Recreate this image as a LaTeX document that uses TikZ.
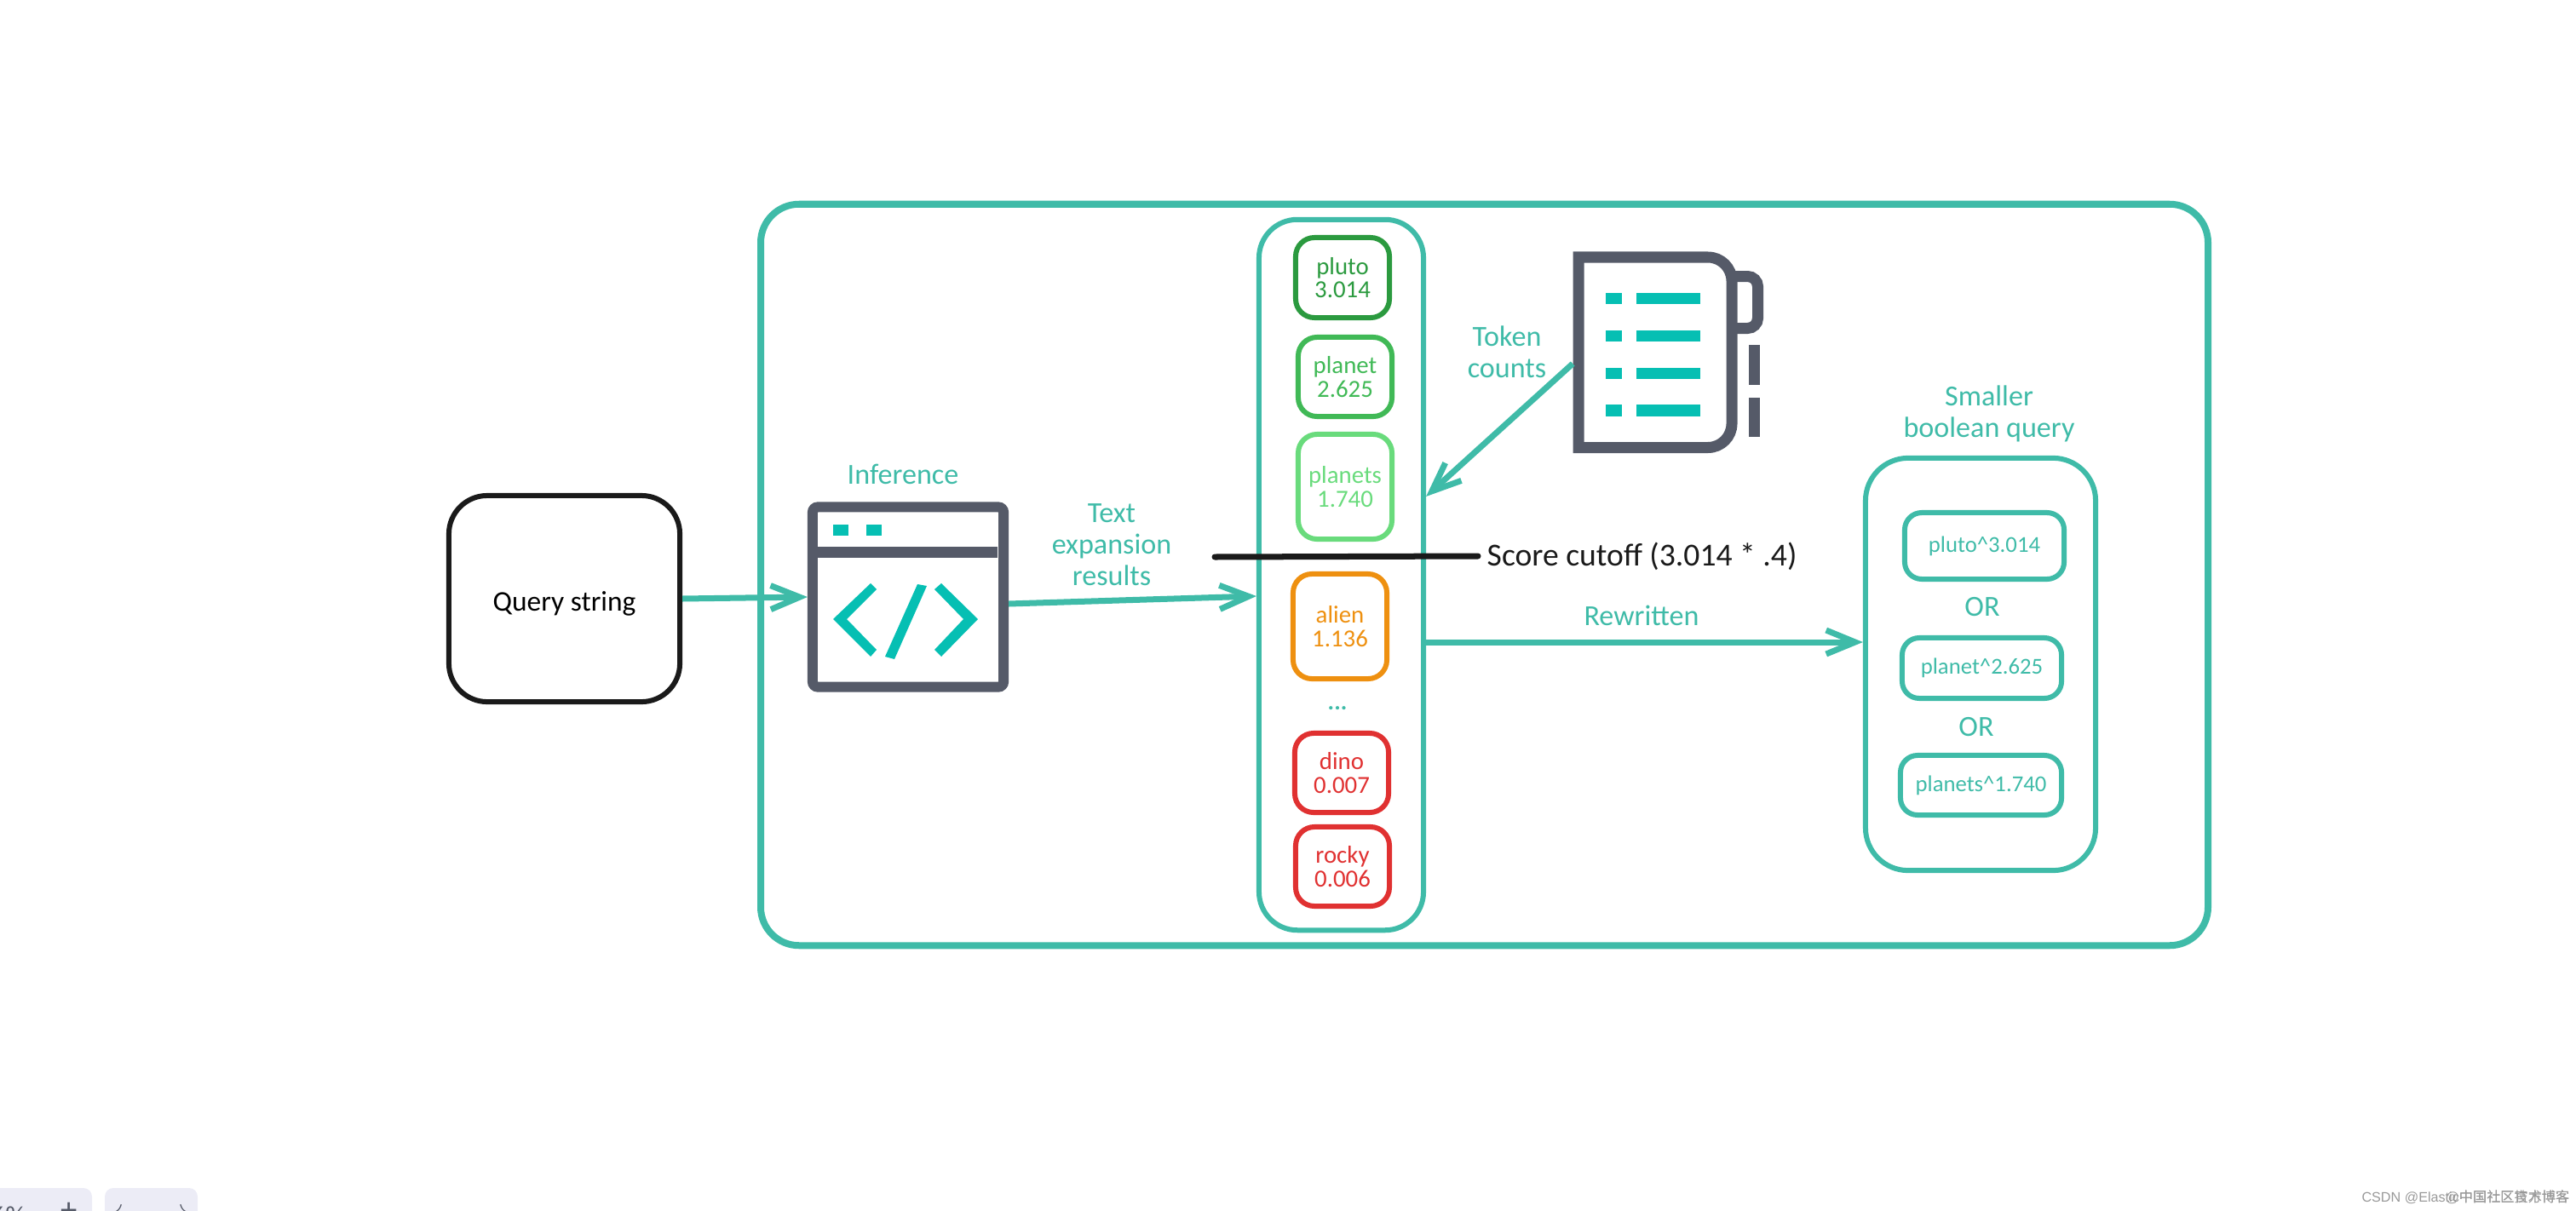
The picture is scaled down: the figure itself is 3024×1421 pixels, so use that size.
\documentclass[tikz,border=0pt]{standalone}
\usepackage{fontspec}
\setmainfont{Carlito}
\newfontfamily\cjkfont{Noto Sans CJK SC}
\newfontfamily\markfont{Liberation Sans}
\usetikzlibrary{arrows.meta}
\definecolor{sketch teal}{HTML}{3FBBA8}
\definecolor{icon ink}{HTML}{555A68}
\definecolor{icon teal}{HTML}{06BFB3}
\definecolor{pluto green}{HTML}{2B9A3F}
\definecolor{planet green}{HTML}{40B956}
\definecolor{planets green}{HTML}{69DB7C}
\definecolor{alien orange}{HTML}{EE9010}
\definecolor{dino red}{HTML}{E03131}
\definecolor{ink black}{HTML}{1A1A1A}
\definecolor{chrome panel}{HTML}{ECECF6}
\begin{document}
\begin{tikzpicture}[x=0.01cm,y=-0.01cm]
	\tikzset{sketch box/.style={draw=#1,line width=0.06cm,rounded corners=0.45cm},
		score box/.style={draw=#1,text=#1,line width=0.06cm,rounded corners=0.22cm,minimum width=1.1cm,align=center,inner sep=0,font=\fontsize{8.2}{7.8}\selectfont},
		query box/.style={draw=sketch teal,text=sketch teal,line width=0.06cm,rounded corners=0.2cm,inner sep=0,font=\fontsize{7.6}{9}\selectfont},
		tag text/.style={text=sketch teal,align=center,inner sep=0,font=\fontsize{9.7}{10.5}\selectfont},
		flow/.style={draw=sketch teal,line width=0.07cm,-{Straight Barb[length=3.4mm,width=2.8mm]}}}
	\useasboundingbox (0,0) rectangle (3024,1421);
	\clip (0,0) rectangle (3024,1421);
	\node [sketch box = sketch teal,line width=0.08cm,minimum width=16.98cm,minimum height=8.7cm] (engine) at (1742.5,675) {};
	\node [sketch box = ink black,minimum width=2.71cm,minimum height=2.42cm,font=\fontsize{9.5}{11}\selectfont] (query) at (662.5,703) {\raisebox{-4.1pt}[1pt][1pt]{Query string}};
	\node [draw=icon ink,line width=0.12cm,rounded corners=0.06cm,minimum width=2.24cm,minimum height=2.11cm] (inference) at (1066,701) {};
	\fill [icon ink] (959,642) rectangle (1171,655);
	\fill [icon teal] (978,616) rectangle (996,629);
	\fill [icon teal] (1017,616) rectangle (1035,629);
	\fill [icon teal] (1022,685) -- (1029,692) -- (994,727) -- (1029,763) -- (1022,771) -- (978,727) -- cycle;
	\fill [icon teal] (1077,686) -- (1088,688) -- (1050,774) -- (1039,771) -- cycle;
	\fill [icon teal] (1105,685) -- (1097,692) -- (1131,727) -- (1097,763) -- (1105,771) -- (1148,727) -- cycle;
	\node [tag text] (inferencetag) at (1060,557) {Inference};
	\node [tag text] (resultstag) at (1305,640) {Text\\expansion\\results};
	\node [sketch box = sketch teal,minimum width=1.93cm,minimum height=8.34cm] (column) at (1574.5,675) {};
	\node [score box = pluto green,minimum height=0.94cm] (pluto) at (1576,326) {pluto\\3.014};
	\node [score box = planet green,minimum height=0.93cm] (planet) at (1579,442.5) {planet\\2.625};
	\node [score box = planets green,minimum height=1.23cm] (planets) at (1579,571.5) {planets\\1.740};
	\node [score box = alien orange,minimum height=1.23cm] (alien) at (1573,735.5) {alien\\1.136};
	\node [text=sketch teal,inner sep=0,font=\fontsize{8}{9}\selectfont\bfseries] (dots) at (1570,832) {...};
	\node [score box = dino red,minimum height=0.93cm] (dino) at (1575,907.5) {dino\\0.007};
	\node [score box = dino red,minimum height=0.93cm] (rocky) at (1576,1017.5) {rocky\\0.006};
	\node [inner sep=0.1cm,anchor=west,text=ink black,font=\fontsize{10.7}{11}\selectfont] (cutoff) at (1735,653) {Score cutoff (3.014 * .4)};
	\coordinate (cutstart) at (1426,654);
	\draw [ink black,line width=0.07cm,line cap=round] (cutstart) -- (cutoff.west);
	\node [minimum width=1.93cm,minimum height=2.37cm,inner sep=0] (notes) at (1943.5,413.5) {};
	\draw [icon ink,line width=0.13cm] [sharp corners] (1853,525.5) -- (1853,302) [rounded corners=0.28cm] -- (2033,302) -- (2033,525.5) [sharp corners] -- cycle;
	\draw [icon ink,line width=0.13cm,rounded corners=0.12cm] (2033,324.5) -- (2063.5,324.5) -- (2063.5,385.5) -- (2033,385.5);
	\fill [icon ink] (2053,405) rectangle (2066,452);
	\fill [icon ink] (2053,467) rectangle (2066,513);
	\fill [icon teal] (1885,344) rectangle (1904,357);
	\fill [icon teal] (1921,344) rectangle (1996,357);
	\fill [icon teal] (1885,388) rectangle (1904,401);
	\fill [icon teal] (1921,388) rectangle (1996,401);
	\fill [icon teal] (1885,432) rectangle (1904,445);
	\fill [icon teal] (1921,432) rectangle (1996,445);
	\fill [icon teal] (1885,475) rectangle (1904,489);
	\fill [icon teal] (1921,475) rectangle (1996,489);
	\node [tag text] (tokentag) at (1769,413) {Token\\counts};
	\node [tag text] (rewrittentag) at (1927,723) {Rewritten};
	\node [sketch box = sketch teal,minimum width=2.7cm,minimum height=4.84cm,rounded corners=0.5cm] (smaller) at (2325,780) {};
	\node [tag text] (smallertag) at (2335,486) {Smaller\\boolean query};
	\node [query box,minimum width=1.87cm,minimum height=0.78cm] (plutoquery) at (2329.5,641) {pluto\textasciicircum 3.014};
	\node [tag text] (orone) at (2327,713) {OR};
	\node [query box,minimum width=1.87cm,minimum height=0.71cm] (planetquery) at (2326.5,784.5) {planet\textasciicircum 2.625};
	\node [tag text] (ortwo) at (2320,854) {OR};
	\node [query box,minimum width=1.89cm,minimum height=0.7cm] (planetsquery) at (2325.5,922) {planets\textasciicircum 1.740};
	\draw [flow] (query.east) -- (inference.west);
	\draw [flow] (inference.east |- 0,709) -- (column.west |- 0,700);
	\draw [flow] (notes.west |- 0,427) -- (column.east |- 0,583);
	\draw [flow] (column.east |- 0,754) -- (smaller.west |- 0,754);
	\fill [chrome panel,rounded corners=0.1cm] (-20,1395) rectangle (108,1450);
	\fill [chrome panel,rounded corners=0.1cm] (123,1395) rectangle (232,1450);
	\node [anchor=north east,inner sep=0,text=icon ink,font=\fontsize{9}{11}\selectfont] (zoomlevel) at (30,1416) {96\%};
	\node [anchor=north,inner sep=0,text=icon ink,font=\fontsize{11}{11}\selectfont] (zoomin) at (81,1412) {+};
	\node [inner sep=0,text=icon ink] (undo) at (150,1426) {$\leftarrow$};
	\node [inner sep=0,text=icon ink] (redo) at (205,1426) {$\rightarrow$};
	\node [anchor=east,inner sep=0,text=black!40,font=\fontsize{4.6}{6}\selectfont] (watermark) at (3017,1406) {\markfont CSDN @Elastic\cjkfont 中国社区官方博客};
	\node [anchor=east,inner sep=0,text=black!40,font=\fontsize{4.6}{6}\selectfont] (overmark) at (3017,1406) {\markfont @\cjkfont 中国社区技术博客};
\end{tikzpicture}
\end{document}
